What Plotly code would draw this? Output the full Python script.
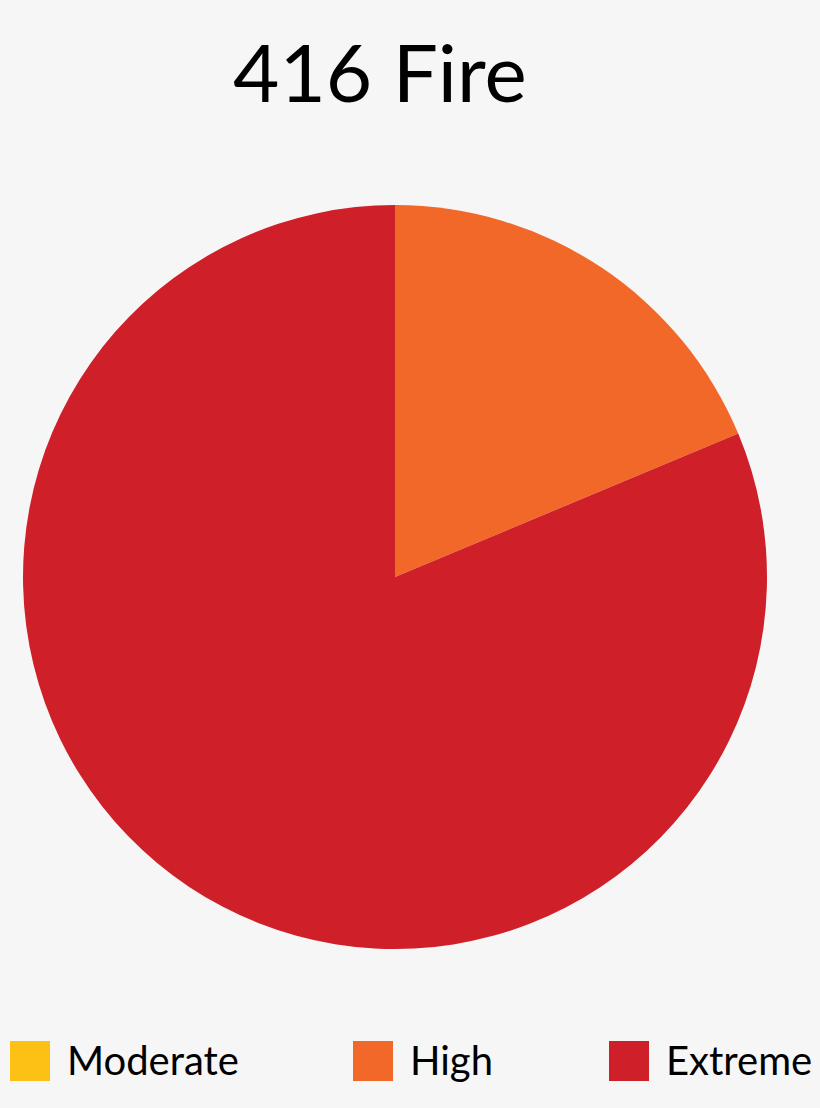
import plotly.graph_objects as go

labels = ["Moderate", "High", "Extreme"]
values = [0, 18.7, 81.3]
colors = ["#FDC015", "#F16828", "#CF202A"]
title = "416 Fire"

W, H = 820, 1108
bg = "#F6F6F6"

fig = go.Figure()
fig.add_trace(go.Pie(
    labels=labels,
    values=values,
    marker=dict(colors=colors, line=dict(width=0)),
    sort=False,
    direction="clockwise",
    rotation=0,
    textinfo="none",
    hoverinfo="label+percent",
    showlegend=False,
    domain=dict(x=[(395 - 372) / W, (395 + 372) / W],
                y=[(531 - 372) / H, (531 + 372) / H]),
))

# legend drawn by hand: big squares with labels
legend_x = [10, 353, 609]
shapes = []
annotations = []
for lab, col, x0 in zip(labels, colors, legend_x):
    shapes.append(dict(type="rect", xref="paper", yref="paper",
                       x0=x0 / W, x1=(x0 + 40) / W,
                       y0=(H - 1081) / H, y1=(H - 1041) / H,
                       fillcolor=col, line=dict(width=0)))
    annotations.append(dict(text=lab, xref="paper", yref="paper",
                            x=(x0 + 55) / W, y=(H - 1060) / H,
                            xanchor="left", yanchor="middle", showarrow=False,
                            font=dict(size=40, color="#000000",
                                      family="Lato")))

annotations.append(dict(text=title, xref="paper", yref="paper",
                        x=380 / W, y=(H - 71) / H, xanchor="center",
                        yanchor="middle", showarrow=False,
                        font=dict(size=80, color="#000000",
                                  family="Lato")))

fig.update_layout(
    width=W, height=H,
    margin=dict(l=0, r=0, t=0, b=0),
    paper_bgcolor=bg, plot_bgcolor=bg,
    shapes=shapes, annotations=annotations,
)
fig.write_html("out.html", config=dict(displayModeBar=False),
               post_script="document.body.style.margin='0';"
                           "document.body.style.background='#F6F6F6';")
